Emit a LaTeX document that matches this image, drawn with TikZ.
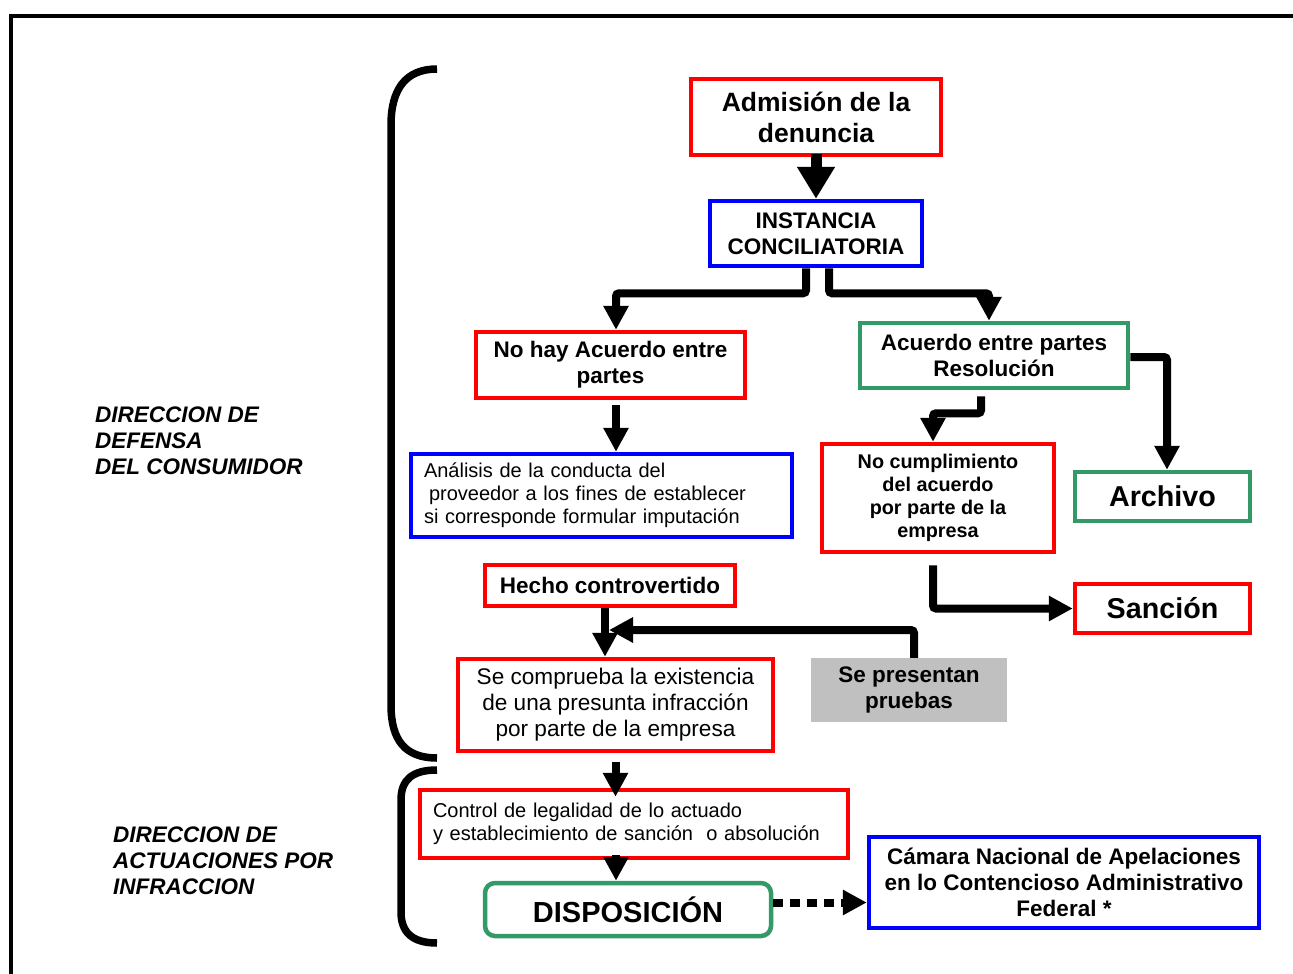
\documentclass[tikz,border=0pt]{standalone}
\usepackage{fontspec}
\setmainfont{Liberation Sans}
\usetikzlibrary{arrows.meta}
\definecolor{boxgreen}{HTML}{339966}
\definecolor{boxgray}{HTML}{C0C0C0}

\begin{document}
\begin{tikzpicture}[x=1pt,y=-1pt,
    box/.style={draw,line width=4.5pt,inner sep=0pt,align=center},
    redbox/.style={box,draw=red},
    bluebox/.style={box,draw=blue},
    greenbox/.style={box,draw=boxgreen},
    boldtext/.style={font=\fontsize{22.5}{26}\selectfont\bfseries},
    smalltext/.style={font=\fontsize{20}{23}\selectfont},
    bigtext/.style={font=\fontsize{28.7}{33}\selectfont\bfseries},
    sidetext/.style={anchor=west,align=left,inner sep=0pt,font=\fontsize{22.5}{26}\selectfont\bfseries\itshape},
    flow/.style={line width=8pt,rounded corners=3pt,-{Triangle[length=24pt,width=24pt]}},
    brace/.style={line width=7.5pt}]
    \useasboundingbox (0,0) rectangle (1293,974);
    \draw[line width=3.5pt] (11,974) -- (11,16) -- (1293,16);
    \draw[brace] (437,69) .. controls (405,69) and (391,90) .. (391,125) -- (391,705) .. controls (391,740) and (405,758) .. (437,758);
    \draw[brace] (437,770) .. controls (412,770) and (401,780) .. (401,800) -- (401,912) .. controls (401,932) and (412,943) .. (437,943);
    \node[sidetext] (defensa) at (95,441) {DIRECCION DE\\DEFENSA\\DEL CONSUMIDOR};
    \node[sidetext] (actuaciones) at (113,861) {DIRECCION DE\\ACTUACIONES POR\\INFRACCION};
    \node[redbox,minimum width=250pt,minimum height=76pt,font=\fontsize{26.5}{31}\selectfont\bfseries] (adm) at (816,117) {Admisión de la\\denuncia};
    \node[bluebox,boldtext,minimum width=212pt,minimum height=65pt] (inst) at (816,233.5) {INSTANCIA\\CONCILIATORIA};
    \node[redbox,boldtext,minimum width=269pt,minimum height=66pt] (nohay) at (610.5,365) {No hay Acuerdo entre\\partes};
    \node[greenbox,boldtext,minimum width=268pt,minimum height=65pt] (acuerdo) at (994,355.5) {Acuerdo entre partes\\Resolución};
    \node[bluebox,smalltext,align=left,minimum width=381pt,minimum height=83pt,inner xsep=13pt,text width=355pt] (analisis) at (601.5,495.5) {Análisis de la conducta del\\\hspace*{5pt}proveedor a los fines de establecer\\si corresponde formular imputación};
    \node[redbox,minimum width=232pt,minimum height=108pt,font=\fontsize{19.8}{23}\selectfont\bfseries] (nocump) at (938,498) {No cumplimiento\\del acuerdo\\por parte de la\\empresa};
    \node[greenbox,bigtext,minimum width=175pt,minimum height=49pt] (archivo) at (1162.5,496.5) {Archivo};
    \node[redbox,boldtext,minimum width=250pt,minimum height=41pt] (hecho) at (610,585.5) {Hecho controvertido};
    \node[redbox,bigtext,minimum width=175pt,minimum height=49pt] (sancion) at (1162.5,608.5) {Sanción};
    \node[redbox,minimum width=315pt,minimum height=92pt,font=\fontsize{22.6}{26}\selectfont] (comprueba) at (615.5,705) {Se comprueba la existencia\\de una presunta infracción\\por parte de la empresa};
    \node[fill=boxgray,boldtext,align=center,inner sep=0pt,minimum width=196pt,minimum height=64pt] (pruebas) at (909,690) {Se presentan\\pruebas};
    \node[redbox,smalltext,align=left,minimum width=428pt,minimum height=68pt,inner xsep=13pt,text width=402pt] (control) at (634,824) {Control de legalidad de lo actuado\\y establecimiento de sanción \ o absolución};
    \node[greenbox,rounded corners=10pt,minimum width=286pt,minimum height=53pt,font=\fontsize{29}{33}\selectfont\bfseries] (dispo) at (628,909.5) {DISPOSICIÓN};
    \node[bluebox,boldtext,minimum width=390pt,minimum height=91pt] (camara) at (1064,882.5) {Cámara Nacional de Apelaciones\\en lo Contencioso Administrativo\\Federal *};
    \coordinate (join) at (609,630);
    \draw[line width=11pt,-{Triangle[length=32pt,width=36pt]}] ([yshift=3pt]adm.south) -- (inst.north);
    \draw[flow] ([xshift=-10pt]inst.south) -- ++(0,25) -| ([xshift=5.5pt]nohay.north);
    \draw[flow] ([xshift=13pt]inst.south) -- ++(0,25) -| ([xshift=-5pt]acuerdo.north);
    \draw[flow] ([xshift=-13pt,yshift=-6pt]acuerdo.south) -- ++(0,17) -| ([xshift=-5pt]nocump.north);
    \draw[flow] ([yshift=-1.5pt]acuerdo.east) -| ([xshift=4.5pt]archivo.north);
    \draw[flow] ([xshift=5.5pt,yshift=-5pt]nohay.south) -- ([xshift=5.5pt]nohay.south |- analisis.north);
    \draw[flow] ([xshift=-5pt,yshift=-11pt]nocump.south) |- (sancion.west);
    \draw[flow] ([xshift=-5pt]hecho.south) -- ([xshift=-5pt]hecho.south |- comprueba.north);
    \draw[flow] ([xshift=5pt]pruebas.north) |- (join);
    \draw[flow] ([yshift=-9pt]comprueba.south) -- ([yshift=-9pt]comprueba.south |- control.north);
    \draw[flow] ([xshift=-18pt,yshift=5pt]control.south) -- ([xshift=-18pt]control.south |- dispo.north);
    \draw[flow,dash pattern=on 10pt off 7pt,rounded corners=0pt] ([yshift=7pt]dispo.east) -- ([yshift=7pt]dispo.east -| camara.west);
\end{tikzpicture}
\end{document}
